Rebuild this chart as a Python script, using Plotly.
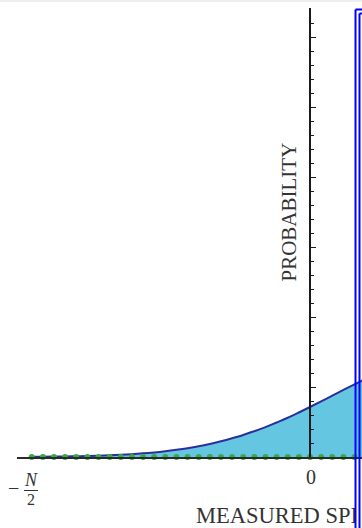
import plotly.graph_objects as go

# ---- data ----
spin_values = list(range(-25, 6))
probability = [0.00003, 0.00004, 0.00006, 0.00008, 0.00011, 0.00014, 0.00019,
               0.00025, 0.00032, 0.00041, 0.00052, 0.00066, 0.00083, 0.00103,
               0.00126, 0.00154, 0.00187, 0.00224, 0.00267, 0.00314, 0.00369,
               0.00427, 0.00493, 0.00561, 0.00636, 0.00714, 0.00794, 0.00876,
               0.00959, 0.01039, 0.01117]
measured_points = list(range(-25, 5))
x_tick_zero = "0"
x_title = "MEASURED SPIN"
y_title = "PROBABILITY"

W, H = 362, 528
SERIF = "Liberation Serif, Times New Roman, serif"
TXT = "#333333"


def px(x):
    return x / W


def py(y):
    return 1 - y / H


fig = go.Figure()

# filled probability curve
fig.add_trace(go.Scatter(
    x=spin_values, y=probability, mode="lines",
    line=dict(color="#2b2f9c", width=2, shape="spline"),
    fill="tozeroy", fillcolor="#64c6e0",
    xaxis="x", yaxis="y", hoverinfo="skip", showlegend=False))

# green measurement points along the axis
fig.add_trace(go.Scatter(
    x=measured_points, y=[0] * len(measured_points), mode="markers",
    marker=dict(color="#3aaa48", size=6),
    cliponaxis=False, xaxis="x", yaxis="y", showlegend=False,
    hoverinfo="skip"))

# axis title, clipped by the blue frame
bottom_h = H - 457
fig.add_trace(go.Scatter(
    x=[196], y=[H - 517], mode="text", text=[x_title],
    textposition="middle right",
    textfont=dict(family=SERIF, size=22.5, color=TXT),
    cliponaxis=True, xaxis="x2", yaxis="y2", showlegend=False,
    hoverinfo="skip"))

x0_px, unit_px = 310, 11.13
left_px, top_px, base_px = 17, 8, 457
ytop = (base_px - top_px) / 7000

fig.update_layout(
    width=W, height=H,
    margin=dict(l=0, r=0, t=0, b=0),
    paper_bgcolor="white", plot_bgcolor="rgba(0,0,0,0)",
    xaxis=dict(domain=[px(left_px), 1],
               range=[(left_px - x0_px) / unit_px, (W - x0_px) / unit_px],
               showline=True, linecolor="#2a2a2a", linewidth=1.5,
               showgrid=False, zeroline=False, showticklabels=False,
               ticks="", anchor="y"),
    yaxis=dict(domain=[py(base_px), py(top_px)], range=[0, ytop],
               anchor="free", position=px(x0_px),
               showline=True, linecolor="#1a1a1a", linewidth=1.5,
               showgrid=False, zeroline=False, showticklabels=False,
               ticks="inside", ticklen=5, tickwidth=1.3, tickcolor="#1a1a1a",
               dtick=0.01, tick0=0,
               minor=dict(ticks="inside", ticklen=3, tickwidth=1,
                          tickcolor="#1a1a1a", dtick=0.002)),
    xaxis2=dict(domain=[0, px(355.5)], range=[0, 355.5], visible=False,
                anchor="y2"),
    yaxis2=dict(domain=[0, bottom_h / H], range=[0, bottom_h], visible=False,
                anchor="x2"),
)

annotations = [
    dict(text=x_tick_zero, x=px(310.5), y=py(477), font=dict(size=20)),
    dict(text=y_title, x=px(288.5), y=py(212), textangle=-90,
         font=dict(size=21)),
    dict(text="\u2212", x=px(13.5), y=py(488), font=dict(size=20)),
    dict(text="<i>N</i>", x=px(31), y=py(479.5), font=dict(size=18)),
    dict(text="2", x=px(31), y=py(499.5), font=dict(size=16)),
]
for a in annotations:
    a.update(xref="paper", yref="paper", showarrow=False,
             xanchor="center", yanchor="middle")
    a["font"].update(family=SERIF, color=TXT)
fig.update_layout(annotations=annotations)

shapes = [
    # fraction bar
    dict(type="line", x0=px(24), x1=px(38), y0=py(490.5), y1=py(490.5),
         line=dict(color=TXT, width=1)),
    # light band along the top edge
    dict(type="rect", x0=0, x1=1, y0=py(2), y1=1,
         line=dict(width=0), fillcolor="#eeeeee", layer="below"),
]
blue = dict(color="#0000ff", width=2)
for xl, yt in [(355.5, 9.5), (359.5, 13.5)]:
    shapes.append(dict(type="line", x0=px(xl), x1=px(xl), y0=py(yt), y1=py(H + 10),
                       line=blue, layer="above"))
    shapes.append(dict(type="line", x0=px(xl), x1=px(W + 10), y0=py(yt), y1=py(yt),
                       line=blue, layer="above"))
for s in shapes:
    s.update(xref="paper", yref="paper")
fig.update_layout(shapes=shapes)

fig.write_html(
    "out.html",
    config={"displayModeBar": False},
    post_script=("document.documentElement.style.margin='0';"
                 "document.body.style.margin='0';"
                 "document.documentElement.style.overflow='hidden';"
                 "document.body.style.overflow='hidden';"))
